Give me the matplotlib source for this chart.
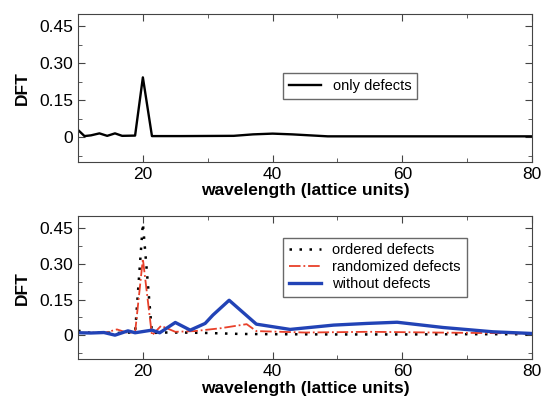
import matplotlib
matplotlib.use("Agg")
import matplotlib.pyplot as plt
from matplotlib.ticker import MultipleLocator

plt.rcParams['font.family'] = ['Liberation Sans', 'DejaVu Sans']

# top panel: only defects
x_only = [10, 11, 12, 13.3, 14.5, 15.7, 16.8, 18.8, 20, 21.4, 26, 34, 37, 40, 43, 48.5, 80]
y_only = [0.03, 0.005, 0.008, 0.016, 0.006, 0.016, 0.006, 0.007, 0.243, 0.005,
          0.005, 0.006, 0.012, 0.015, 0.012, 0.004, 0.004]

# bottom panel
x_ord = [10, 12, 14, 16, 18, 18.8, 20, 21.4, 23, 26, 30, 35, 40, 50, 60, 70, 80]
y_ord = [0.02, 0.01, 0.012, 0.01, 0.012, 0.012, 0.469, 0.01, 0.012, 0.012, 0.01,
         0.006, 0.005, 0.004, 0.004, 0.005, 0.005]

x_rand = [10, 12, 14, 16, 17.5, 18.8, 20, 21.4, 22.8, 25, 28, 32, 36, 37.5, 45, 55,
          65, 72, 80]
y_rand = [0.01, 0.012, 0.01, 0.025, 0.012, 0.012, 0.32, 0.0, 0.04, 0.015, 0.018,
          0.03, 0.047, 0.018, 0.012, 0.015, 0.012, 0.01, 0.008]

x_wo = [10, 12, 14, 15.7, 17.7, 18.8, 21.4, 22.6, 25, 27.3, 29.6, 30.8, 33.3, 37.5,
        42.7, 49.4, 54.5, 59.2, 66.3, 74, 80]
y_wo = [0.011, 0.01, 0.012, 0.001, 0.019, 0.011, 0.022, 0.011, 0.054, 0.022, 0.05,
        0.085, 0.147, 0.047, 0.025, 0.043, 0.05, 0.055, 0.033, 0.015, 0.008]

fig = plt.figure(figsize=(5.41, 3.99), dpi=100)
ax1 = fig.add_axes([0.1442, 0.594, 0.8392, 0.371])
ax2 = fig.add_axes([0.1442, 0.0995, 0.8392, 0.3595])

ax1.plot(x_only, y_only, color='black', lw=1.7, label='only defects')

ax2.plot(x_ord, y_ord, color='black', lw=1.8, linestyle=(0, (1, 3)),
         label='ordered defects')
ax2.plot(x_rand, y_rand, color='#e8402a', lw=1.3, linestyle='-.',
         label='randomized defects')
ax2.plot(x_wo, y_wo, color='#2243b6', lw=2.4, label='without defects')

for ax in (ax1, ax2):
    ax.set_xlim(10, 80)
    ax.set_ylim(-0.1, 0.5)
    ax.set_xticks([20, 40, 60, 80])
    ax.xaxis.set_minor_locator(MultipleLocator(10))
    ax.set_yticks([0, 0.15, 0.30, 0.45])
    ax.set_yticklabels(['0', '0.15', '0.30', '0.45'])
    ax.yaxis.set_minor_locator(MultipleLocator(0.075))
    ax.tick_params(which='both', direction='in', top=True, right=True,
                   labelsize=12.5, color='#444444')
    ax.tick_params(which='major', length=5)
    ax.tick_params(which='minor', length=3)
    for s in ax.spines.values():
        s.set_color('#444444')
    ax.set_xlabel('wavelength (lattice units)', fontsize=12.5, fontweight='bold',
                  labelpad=1)
    ax.set_ylabel('DFT', fontsize=12.5, fontweight='bold', labelpad=7)

leg1 = ax1.legend(loc='upper left', bbox_to_anchor=(0.452, 0.6), fontsize=10.5,
                  frameon=True, fancybox=False, edgecolor='#444444',
                  borderaxespad=0, handlelength=2.2)
leg2 = ax2.legend(loc='upper left', bbox_to_anchor=(0.451, 0.849), fontsize=10.5,
                  frameon=True, fancybox=False, edgecolor='#444444',
                  borderaxespad=0, handlelength=2.2, labelspacing=0.2)

fig.savefig('out.png', dpi=100)
